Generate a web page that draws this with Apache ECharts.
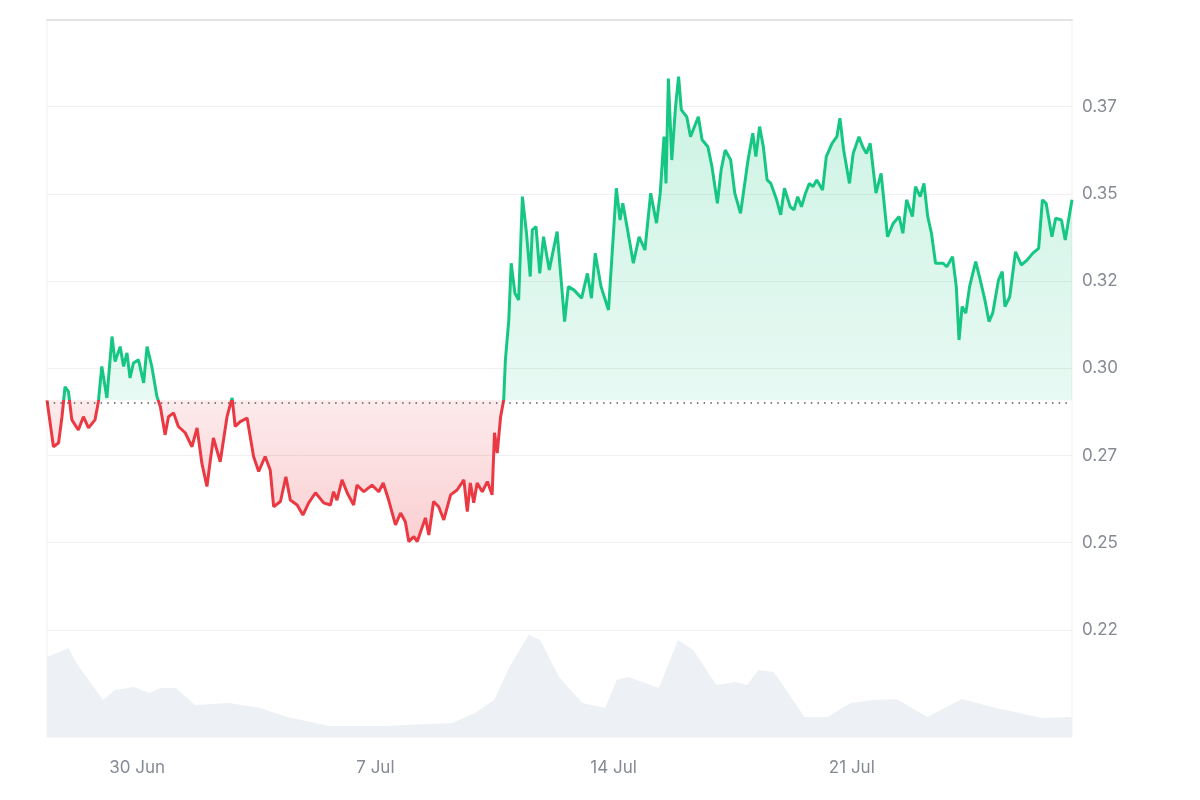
<!DOCTYPE html>
<html>
<head>
<meta charset="utf-8">
<script src="https://cdn.jsdelivr.net/npm/echarts@6/dist/echarts.min.js"></script>
<style>
html,body{margin:0;padding:0;background:#fff;}
#chart{width:1200px;height:800px;}
</style>
</head>
<body>
<div id="chart"></div>
<script>
// Time in days since 30 Jun 00:00
const days = [
-2.65,-2.46,-2.31,-2.21,-2.12,-2.02,-1.92,-1.73,-1.58,-1.43,-1.24,-1.14,-1.04,-0.89,-0.74,-0.65,-0.50,-0.40,-0.30,-0.21,-0.11,
0.04,0.19,0.29,0.43,0.58,0.68,0.82,0.92,1.07,1.21,1.41,1.61,1.76,1.90,2.05,2.15,2.24,2.44,2.64,2.79,2.88,
3.03,3.23,3.42,3.57,3.76,3.91,4.01,4.21,4.37,4.50,4.70,4.87,5.04,5.24,5.48,5.68,5.77,5.87,6.02,6.17,6.36,6.46,6.66,6.90,
7.10,7.23,7.39,7.59,7.74,7.88,7.98,8.13,8.23,8.47,8.57,8.71,8.86,9.01,9.21,9.40,9.60,9.70,9.79,9.89,9.99,
10.14,10.29,10.43,10.50,10.58,10.68,10.77,10.82,10.92,10.99,11.10,11.21,11.32,11.44,11.55,11.61,11.72,11.83,11.94,
12.11,12.34,12.56,12.67,12.84,13.06,13.23,13.35,13.46,13.63,13.85,
14.08,14.19,14.27,14.41,14.58,14.75,14.92,15.09,15.26,15.37,15.48,15.54,15.61,15.71,15.82,15.91,15.99,
16.15,16.26,16.49,16.60,16.77,16.89,17.05,17.16,17.28,17.44,17.56,17.73,17.95,18.09,18.18,18.29,18.40,18.51,18.62,18.79,18.91,
19.02,19.19,19.30,19.41,19.52,19.64,19.75,19.86,19.97,20.14,20.25,20.42,20.56,20.65,20.76,20.93,
21.04,21.21,21.32,21.43,21.54,21.71,21.86,22.05,22.22,22.39,22.50,22.61,22.78,22.87,23.01,23.12,23.23,23.34,23.46,23.68,23.79,23.96,
24.07,24.15,24.24,24.35,24.46,24.64,24.75,24.91,25.03,25.14,25.31,25.42,25.50,25.64,25.81,25.98,
26.15,26.32,26.49,26.60,26.71,26.88,26.99,27.16,27.27,27.47
];
const prices = [
0.2908,0.2775,0.2786,0.2861,0.2947,0.2933,0.2852,0.2823,0.2861,0.2829,0.2852,0.2904,0.3005,0.2915,0.3091,0.3019,0.3062,0.3005,0.3044,0.2972,0.3015,
0.3024,0.2958,0.3062,0.3005,0.2919,0.2890,0.2809,0.2861,0.2872,0.2833,0.2815,0.2775,0.2829,0.2728,0.2661,0.2737,0.2800,0.2732,0.2861,0.2915,0.2833,
0.2847,0.2857,0.2747,0.2704,0.2747,0.2708,0.2603,0.2618,0.2689,0.2622,0.2608,0.2579,0.2614,0.2643,0.2614,0.2608,0.2646,0.2622,0.2680,0.2643,0.2608,0.2665,0.2646,0.2665,
0.2646,0.2671,0.2622,0.2551,0.2585,0.2560,0.2503,0.2517,0.2503,0.2571,0.2522,0.2618,0.2603,0.2565,0.2637,0.2651,0.2680,0.2589,0.2671,0.2614,0.2671,
0.2646,0.2675,0.2637,0.2815,0.2757,0.2861,0.2909,0.3024,0.3138,0.3301,0.3215,0.3196,0.3492,0.3387,0.3263,0.3397,0.3406,0.3272,0.3377,
0.3282,0.3392,0.3134,0.3234,0.3224,0.3201,0.3272,0.3201,0.3330,0.3234,0.3167,
0.3516,0.3425,0.3473,0.3397,0.3301,0.3377,0.3339,0.3502,0.3416,0.3502,0.3664,0.3530,0.3831,0.3597,0.3750,0.3836,0.3741,
0.3721,0.3664,0.3721,0.3655,0.3635,0.3578,0.3473,0.3569,0.3626,0.3597,0.3502,0.3444,0.3597,0.3674,0.3607,0.3693,0.3635,0.3540,0.3530,0.3483,0.3440,
0.3516,0.3463,0.3454,0.3492,0.3463,0.3502,0.3530,0.3521,0.3540,0.3511,0.3607,0.3645,0.3664,0.3717,0.3626,0.3530,
0.3616,0.3664,0.3635,0.3616,0.3645,0.3502,0.3559,0.3377,0.3416,0.3435,0.3387,0.3483,0.3435,0.3521,0.3492,0.3530,0.3435,0.3387,0.3301,0.3301,0.3291,0.3320,
0.3234,0.3081,0.3177,0.3158,0.3234,0.3306,0.3263,0.3196,0.3134,0.3158,0.3253,0.3277,0.3177,0.3205,0.3334,0.3296,
0.3310,0.3330,0.3344,0.3483,0.3473,0.3377,0.3430,0.3425,0.3368,0.3483
];
// Volume (relative units) sampled at these days
const volumeDays = [
-2.65,-2.02,-1.79,-1.00,-0.66,-0.10,0.35,0.69,1.14,1.70,2.71,3.61,4.41,5.64,7.22,9.25,9.92,10.49,10.94,11.50,11.84,
12.40,13.08,13.75,14.09,14.43,15.33,15.89,16.34,17.02,17.59,17.92,18.26,18.71,19.61,20.29,20.96,21.64,22.31,23.22,24.23,25.24,26.60,27.47
];
const volumes = [
80,89,74,37,47,50,44,49,49,32,34,29,20,11,11,14,24,37,70,102,97,
60,34,29,57,60,49,97,87,52,55,52,67,65,20,20,34,37,38,20,38,29,19,20
];
const tickDays = [0, 7, 14, 21];
const tickLabels = ['30 Jun', '7 Jul', '14 Jul', '21 Jul'];
const baseline = prices[0];
const xMin = -2.65, xMax = 27.47;

const GREEN = '#16c784', RED = '#ea3943';
const priceData = days.map((d, i) => [d, prices[i]]);
const upData = days.map((d, i) => [d, Math.max(prices[i], baseline)]);
const downData = days.map((d, i) => [d, Math.min(prices[i], baseline)]);
const volData = volumeDays.map((d, i) => [d, volumes[i]]);

const chart = echarts.init(document.getElementById('chart'), null, {renderer: 'canvas'});
const labelFont = {color: '#858a94', fontSize: 17, fontFamily: 'Inter, Roboto, sans-serif'};

chart.setOption({
  animation: false,
  backgroundColor: '#ffffff',
  grid: [
    {left: 47, right: 128, top: 19.5, height: 697.5},
    {left: 47, right: 128, top: 19.5, bottom: 63, show: true, borderColor: '#f1f1f1', borderWidth: 1}
  ],
  xAxis: [
    {type: 'value', gridIndex: 0, min: xMin, max: xMax, position: 'top',
     axisLine: {show: true, lineStyle: {color: '#e3e3e3', width: 2}},
     axisTick: {show: false}, axisLabel: {show: false}, splitLine: {show: false}},
    {type: 'value', gridIndex: 1, min: xMin, max: xMax, position: 'bottom',
     axisLine: {show: false}, axisTick: {show: false}, splitLine: {show: false},
     axisLabel: Object.assign({
       customValues: tickDays, margin: 22,
       formatter: v => { const k = tickDays.indexOf(Math.round(v)); return k >= 0 ? tickLabels[k] : ''; }
     }, labelFont)}
  ],
  yAxis: [
    {type: 'value', gridIndex: 0, min: 0.2, max: 0.4, interval: 0.025, position: 'right',
     axisLine: {show: false}, axisTick: {show: false},
     splitLine: {show: true, showMinLine: false, showMaxLine: false, lineStyle: {color: '#f0f0f0', width: 1}},
     axisLabel: Object.assign({
       margin: 10, showMinLabel: false, showMaxLabel: false,
       formatter: v => (Math.floor(v * 100 + 1e-4) / 100).toFixed(2)
     }, labelFont)},
    {type: 'value', gridIndex: 1, min: 0, max: 718, show: false, splitLine: {show: false}}
  ],
  series: [
    {name: 'volume', type: 'line', xAxisIndex: 1, yAxisIndex: 1, data: volData,
     showSymbol: false, silent: true, lineStyle: {width: 0}, itemStyle: {color: '#edf0f4'},
     areaStyle: {color: '#edf0f4', opacity: 1}, z: 1},
    {name: 'up', type: 'line', xAxisIndex: 0, yAxisIndex: 0, data: upData,
     showSymbol: false, silent: true, lineStyle: {width: 0},
     areaStyle: {origin: baseline, opacity: 1, color: new echarts.graphic.LinearGradient(0, 0, 0, 1, [
       {offset: 0, color: 'rgba(22,199,132,0.22)'}, {offset: 1, color: 'rgba(22,199,132,0.10)'}])},
     markLine: {silent: true, symbol: ['none', 'none'], label: {show: false},
       lineStyle: {color: '#55595f', type: [1.5, 5.2], width: 1.5}, data: [{yAxis: baseline}]}, z: 2},
    {name: 'down', type: 'line', xAxisIndex: 0, yAxisIndex: 0, data: downData,
     showSymbol: false, silent: true, lineStyle: {width: 0},
     areaStyle: {origin: baseline, opacity: 1, color: new echarts.graphic.LinearGradient(0, 0, 0, 1, [
       {offset: 0, color: 'rgba(234,57,67,0.10)'}, {offset: 1, color: 'rgba(234,57,67,0.24)'}])}, z: 2},
    {name: 'price', type: 'line', xAxisIndex: 0, yAxisIndex: 0, data: priceData,
     showSymbol: false, lineStyle: {width: 3, color: GREEN}, itemStyle: {color: GREEN}, z: 3}
  ]
});

// Split the line colour at the baseline, using the axis scale to find its pixel row
const baseY = chart.convertToPixel({yAxisIndex: 0}, baseline);
const H = chart.getHeight();
const f = baseY / H;
const lineGrad = new echarts.graphic.LinearGradient(0, 0, 0, H, [
  {offset: 0, color: GREEN}, {offset: f, color: GREEN},
  {offset: f, color: RED}, {offset: 1, color: RED}
], true);
chart.setOption({series: [{}, {}, {}, {lineStyle: {color: lineGrad}}]});
</script>
</body>
</html>
